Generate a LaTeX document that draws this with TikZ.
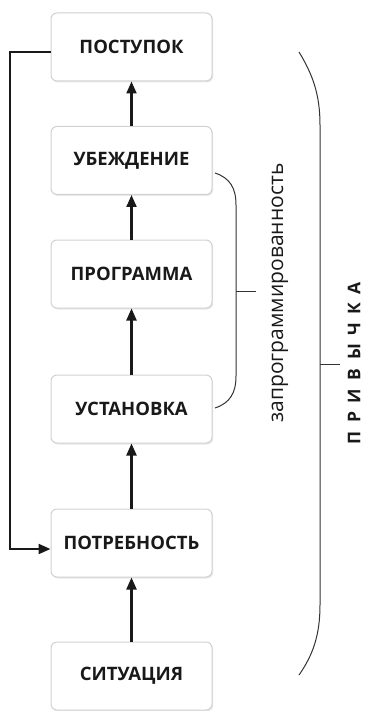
\documentclass[tikz,border=0pt]{standalone}
\usepackage{fontspec}
\setmainfont{Open Sans}
\usetikzlibrary{arrows.meta,shadows}
\begin{document}
\begin{tikzpicture}[x=1pt,y=-1pt,
  box/.style={draw=black!18, line width=1pt, rounded corners=6pt, fill=white,
    minimum width=161pt, minimum height=68pt, inner sep=0pt,
    font=\fontsize{18.5}{20}\selectfont\bfseries, text=black!90,
    drop shadow={opacity=0.18, shadow xshift=1.2pt, shadow yshift=-1.5pt}},
  conn/.style={line width=2.2pt, draw=black!90, -{Triangle[width=10pt,length=12pt]}},
  brace/.style={line width=1pt, draw=black!80}]
\useasboundingbox (0,0) rectangle (366,711);
\node[box] (a) at (131.5,47) {ПОСТУПОК};
\node[box] (b) at (131.5,160.5) {УБЕЖДЕНИЕ};
\node[box] (c) at (131.5,274) {ПРОГРАММА};
\node[box] (d) at (131.5,409) {УСТАНОВКА};
\node[box] (e) at (131.5,543) {ПОТРЕБНОСТЬ};
\node[box] (f) at (131.5,676) {СИТУАЦИЯ};
\draw[conn] (f) -- (e);
\draw[conn] (e) -- (d);
\draw[conn] (d) -- (c);
\draw[conn] (c) -- (b);
\draw[conn] (b) -- (a);
\coordinate (fb1) at (10,52);
\coordinate (fb2) at (10,549);
\draw[conn] ([yshift=-5pt]a.west) -- (fb1) -- (fb2) -- ([yshift=-6pt]e.west);
% small brace
\coordinate (s1) at (215,173);
\coordinate (s2) at (215,408);
\coordinate (st) at (256,291);
\draw[brace] (s1) .. controls (230,178) and (236,188) .. (236,205) -- (236,376)
  .. controls (236,393) and (230,403) .. (s2);
\draw[brace] (236,291) -- (st);
\node[rotate=90, font=\fontsize{21}{23}\selectfont, text=black!90] (zp) at (280,293) {запрограммированность};
% big brace
\coordinate (b1) at (299,52);
\coordinate (b2) at (299,675);
\coordinate (bt) at (340,364);
\draw[brace] (b1) .. controls (313,75) and (320,95) .. (320,125) -- (320,605)
  .. controls (320,635) and (313,655) .. (b2);
\draw[brace] (320,364) -- (bt);
\node[rotate=90, font=\fontsize{17.5}{20}\selectfont\bfseries, text=black!90] (pr) at (354,363) {П\hspace{8.5pt}Р\hspace{8.5pt}И\hspace{8.5pt}В\hspace{8.5pt}Ы\hspace{8.5pt}Ч\hspace{8.5pt}К\hspace{8.5pt}А};
\end{tikzpicture}
\end{document}
